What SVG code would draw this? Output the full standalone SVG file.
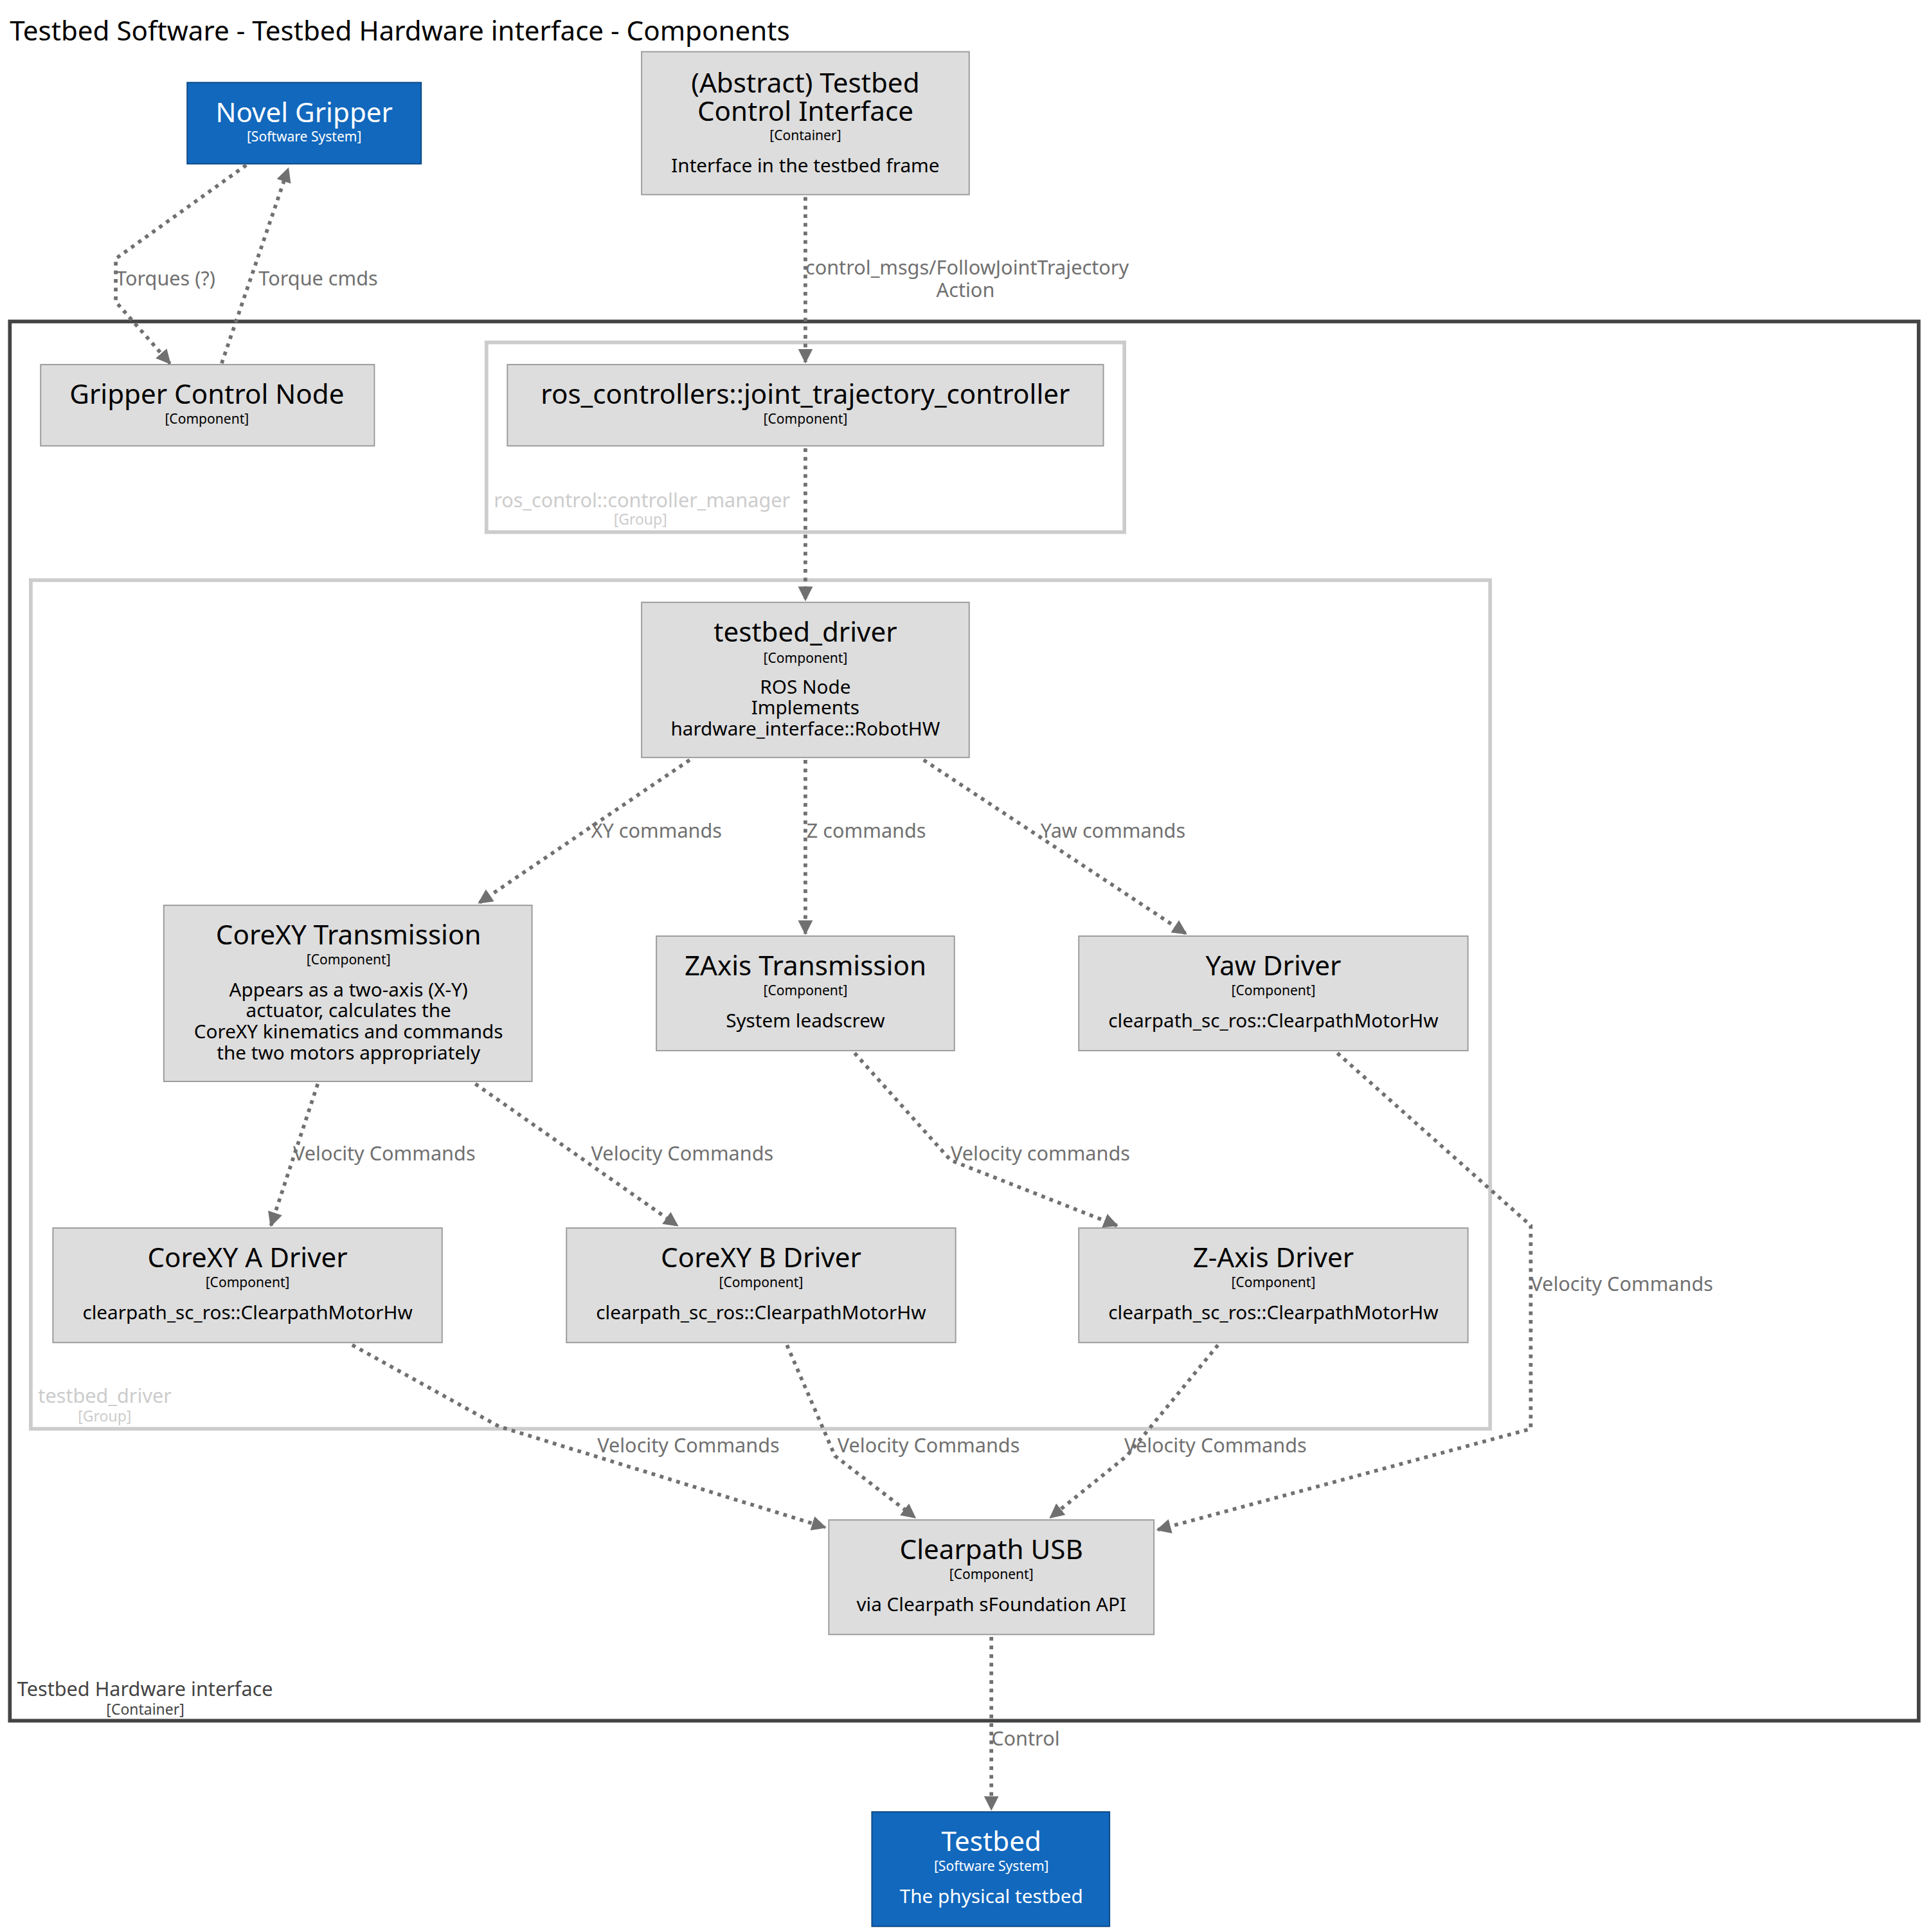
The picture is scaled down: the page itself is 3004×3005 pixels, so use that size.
<svg xmlns="http://www.w3.org/2000/svg" width="3004" height="3005" viewBox="0 0 3004 3005">
<style>
text{font-family:"Noto Sans","Open Sans",sans-serif}
.n{fill:#dddddd;stroke:#9a9a9a;stroke-width:1}
.s{fill:#1168bd;stroke:#0b4884;stroke-width:1}
.t{font-size:22px;fill:#000;text-anchor:middle}
.k{font-size:11px;fill:#000;text-anchor:middle}
.d{font-size:15.5px;fill:#000;text-anchor:middle}
.w{fill:#fff}
.e{fill:none;stroke:#707070;stroke-width:3;stroke-dasharray:3,4}
.l{font-size:16px;fill:#707070}
.g{fill:none;stroke:#cccccc;stroke-width:3}
.gl{fill:#cccccc}
</style>
<defs><marker id="a" viewBox="0 0 10 10" refX="9" refY="5" markerWidth="4" markerHeight="4" orient="auto"><path d="M0,0L10,5L0,10z" fill="#707070" stroke="none"/></marker></defs>
<rect width="3004" height="3005" fill="#fff"/>
<g transform="scale(1.9158)">
<text x="8" y="33" font-size="22" fill="#000">Testbed Software - Testbed Hardware interface - Components</text>
<g id="container">
<rect x="8" y="261" width="1550" height="1136" fill="none" stroke="#444" stroke-width="3"/>
<text x="14" y="1377" font-size="16" fill="#444">Testbed Hardware interface</text>
<text x="118" y="1392" font-size="12" fill="#444" text-anchor="middle">[Container]</text>
</g>
<g id="grp-cm">
<rect class="g" x="395" y="278" width="518" height="154"/>
<text class="gl" x="401" y="412" font-size="16">ros_control::controller_manager</text>
<text class="gl" x="520" y="426" font-size="12" text-anchor="middle">[Group]</text>
</g>
<g id="grp-td">
<rect class="g" x="25" y="471" width="1185" height="689"/>
<text class="gl" x="31" y="1139" font-size="16">testbed_driver</text>
<text class="gl" x="85" y="1154" font-size="12" text-anchor="middle">[Group]</text>
</g>
<g id="novel"><rect class="s" x="152" y="67" width="190" height="66"/>
<text class="t w" x="247" y="99">Novel Gripper</text><text class="k w" x="247" y="115">[Software System]</text></g>
<g id="abstract"><rect class="n" x="521" y="42" width="266" height="116"/>
<text class="t" x="654" y="75">(Abstract) Testbed</text><text class="t" x="654" y="98">Control Interface</text>
<text class="k" x="654" y="114">[Container]</text><text class="d" x="654" y="140">Interface in the testbed frame</text></g>
<g id="gripper"><rect class="n" x="33" y="296" width="271" height="66"/>
<text class="t" x="168" y="328">Gripper Control Node</text><text class="k" x="168" y="344">[Component]</text></g>
<g id="jtc"><rect class="n" x="412" y="296" width="484" height="66"/>
<text class="t" x="654" y="328">ros_controllers::joint_trajectory_controller</text><text class="k" x="654" y="344">[Component]</text></g>
<g id="td"><rect class="n" x="521" y="489" width="266" height="126"/>
<text class="t" x="654" y="521">testbed_driver</text><text class="k" x="654" y="538">[Component]</text>
<text class="d" x="654" y="563">ROS Node</text><text class="d" x="654" y="580">Implements</text><text class="d" x="654" y="597">hardware_interface::RobotHW</text></g>
<g id="cxyt"><rect class="n" x="133" y="735" width="299" height="143"/>
<text class="t" x="283" y="767">CoreXY Transmission</text><text class="k" x="283" y="783">[Component]</text>
<text class="d" x="283" y="809">Appears as a two-axis (X-Y)</text><text class="d" x="283" y="826">actuator, calculates the</text>
<text class="d" x="283" y="843">CoreXY kinematics and commands</text><text class="d" x="283" y="860">the two motors appropriately</text></g>
<g id="zt"><rect class="n" x="533" y="760" width="242" height="93"/>
<text class="t" x="654" y="792">ZAxis Transmission</text><text class="k" x="654" y="808">[Component]</text><text class="d" x="654" y="834">System leadscrew</text></g>
<g id="yaw"><rect class="n" x="876" y="760" width="316" height="93"/>
<text class="t" x="1034" y="792">Yaw Driver</text><text class="k" x="1034" y="808">[Component]</text><text class="d" x="1034" y="834">clearpath_sc_ros::ClearpathMotorHw</text></g>
<g id="cxa"><rect class="n" x="43" y="997" width="316" height="93"/>
<text class="t" x="201" y="1029">CoreXY A Driver</text><text class="k" x="201" y="1045">[Component]</text><text class="d" x="201" y="1071">clearpath_sc_ros::ClearpathMotorHw</text></g>
<g id="cxb"><rect class="n" x="460" y="997" width="316" height="93"/>
<text class="t" x="618" y="1029">CoreXY B Driver</text><text class="k" x="618" y="1045">[Component]</text><text class="d" x="618" y="1071">clearpath_sc_ros::ClearpathMotorHw</text></g>
<g id="zd"><rect class="n" x="876" y="997" width="316" height="93"/>
<text class="t" x="1034" y="1029">Z-Axis Driver</text><text class="k" x="1034" y="1045">[Component]</text><text class="d" x="1034" y="1071">clearpath_sc_ros::ClearpathMotorHw</text></g>
<g id="usb"><rect class="n" x="673" y="1234" width="264" height="93"/>
<text class="t" x="805" y="1266">Clearpath USB</text><text class="k" x="805" y="1282">[Component]</text><text class="d" x="805" y="1308">via Clearpath sFoundation API</text></g>
<g id="testbed"><rect class="s" x="708" y="1471" width="193" height="93"/>
<text class="t w" x="805" y="1503">Testbed</text><text class="k w" x="805" y="1519">[Software System]</text><text class="d w" x="805" y="1545">The physical testbed</text></g>
<g id="edges">
<path class="e" marker-end="url(#a)" d="M200,134L94,210L94,245L138,295"/><text class="l" x="94" y="232">Torques (?)</text>
<path class="e" marker-end="url(#a)" d="M180,295L234,137"/><text class="l" x="210" y="232">Torque cmds</text>
<path class="e" marker-end="url(#a)" d="M654,160L654,294"/><text class="l" x="654" y="223">control_msgs/FollowJointTrajectory</text><text class="l" x="784" y="241" text-anchor="middle">Action</text>
<path class="e" marker-end="url(#a)" d="M654,364L654,487"/>
<path class="e" marker-end="url(#a)" d="M560,617L389,733"/><text class="l" x="480" y="680">XY commands</text>
<path class="e" marker-end="url(#a)" d="M654,617L654,758"/><text class="l" x="655" y="680">Z commands</text>
<path class="e" marker-end="url(#a)" d="M750,617L963,758"/><text class="l" x="845" y="680">Yaw commands</text>
<path class="e" marker-end="url(#a)" d="M258,880L220,995"/><text class="l" x="238" y="942">Velocity Commands</text>
<path class="e" marker-end="url(#a)" d="M386,880L550,995"/><text class="l" x="480" y="942">Velocity Commands</text>
<path class="e" marker-end="url(#a)" d="M694,855L772,942L907,995"/><text class="l" x="772" y="942">Velocity commands</text>
<path class="e" marker-end="url(#a)" d="M1086,855L1243,995L1243,1160L940,1242"/><text class="l" x="1243" y="1048">Velocity Commands</text>
<path class="e" marker-end="url(#a)" d="M286,1092L405,1158L670,1240"/><text class="l" x="485" y="1179">Velocity Commands</text>
<path class="e" marker-end="url(#a)" d="M639,1092L678,1182L743,1232"/><text class="l" x="680" y="1179">Velocity Commands</text>
<path class="e" marker-end="url(#a)" d="M989,1092L915,1182L853,1232"/><text class="l" x="913" y="1179">Velocity Commands</text>
<path class="e" marker-end="url(#a)" d="M805,1329L805,1469"/><text class="l" x="805" y="1417">Control</text>
</g>
</g>
</svg>
